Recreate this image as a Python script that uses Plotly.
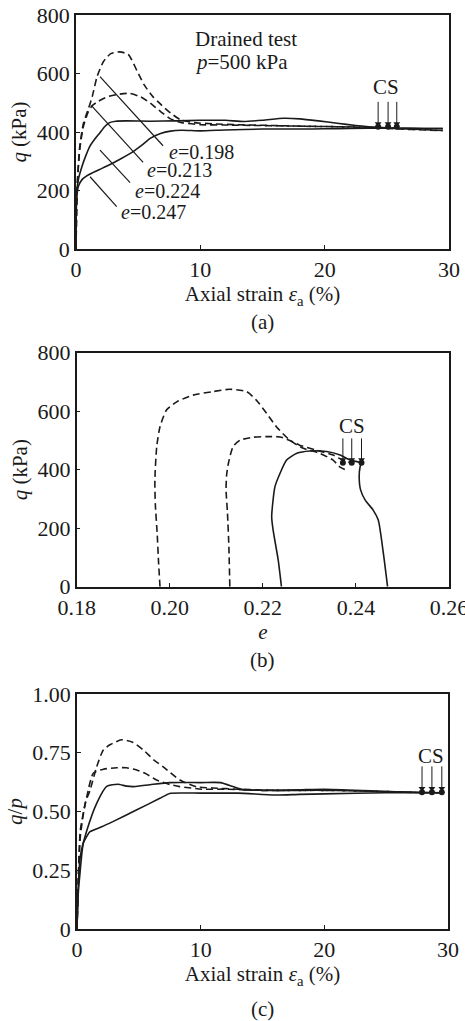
import plotly.graph_objects as go

# ---------------- Panel (a): q vs axial strain ----------------
eps_a_198 = [0, 0.1, 0.3, 0.6, 1.0, 1.3, 1.7, 2.2, 2.8, 3.5, 4.2, 4.9, 5.5, 6.2, 6.8, 7.6, 8.4, 9.5, 11, 13, 15, 18, 21, 24, 26, 28, 29.5]
q_a_198 = [0, 220, 350, 430, 480, 520, 590, 640, 668, 674, 665, 610, 560, 520, 495, 465, 442, 432, 428, 425, 423, 420, 418, 416, 412, 408, 405]
eps_a_213 = [0, 0.1, 0.3, 0.6, 1.0, 1.3, 1.8, 2.5, 3.3, 4.3, 5.2, 6.0, 6.8, 7.6, 8.5, 10, 12, 15, 18, 21, 24, 26, 28, 29.5]
q_a_213 = [0, 210, 340, 420, 470, 490, 505, 520, 528, 532, 520, 498, 470, 445, 432, 425, 424, 422, 420, 418, 415, 410, 407, 405]
eps_a_224 = [0, 0.05, 0.2, 0.5, 0.8, 1.1, 1.5, 1.9, 2.3, 2.7, 3.2, 4, 6, 8, 10, 12, 13.5, 15, 16.7, 18, 19.5, 21, 22.5, 24, 26, 28, 29.5]
q_a_224 = [0, 190, 240, 285, 320, 350, 375, 396, 418, 432, 437, 438, 437, 438, 440, 440, 436, 440, 447, 445, 438, 430, 422, 416, 413, 412, 412]
eps_a_247 = [0, 0.05, 0.2, 0.5, 0.86, 1.3, 1.9, 2.7, 3.5, 4.6, 5.3, 6.0, 6.8, 7.6, 8.5, 10, 12, 15, 18, 20, 22, 25, 28, 29.5]
q_a_247 = [0, 170, 215, 238, 250, 260, 272, 288, 306, 333, 355, 379, 395, 403, 406, 404, 407, 410, 410, 411, 412, 413, 412, 412]

cs_a_eps = [24.3, 25.1, 25.8]
cs_a_q = [418, 418, 418]
cs_a_arrow_top = 503
cs_a_arrow_tip = 428

labels_a = ["<i>e</i>=0.198", "<i>e</i>=0.213", "<i>e</i>=0.224", "<i>e</i>=0.247"]
label_a_eps = [7.3, 5.55, 4.6, 3.48]
label_a_q = [333, 270, 199, 126]
leader_from_eps = [7.0, 5.4, 4.35, 3.27]
leader_from_q = [353, 296, 227, 145]
leader_to_eps = [1.93, 1.26, 1.93, 1.13]
leader_to_q = [589, 489, 338, 247]

# ---------------- Panel (b): q vs void ratio ----------------
e_b_198 = [0.1979, 0.1976, 0.1973, 0.1969, 0.1968, 0.1972, 0.1979, 0.1993, 0.2015, 0.205, 0.2093, 0.2129, 0.2165, 0.2186, 0.2208, 0.2229, 0.2258, 0.2287, 0.2322, 0.2351, 0.2365, 0.2377]
q_b_198 = [0, 80, 180, 280, 365, 479, 547, 604, 632, 655, 667, 675, 667, 638, 593, 547, 501, 473, 456, 433, 410, 400]
e_b_213 = [0.2129, 0.2127, 0.2124, 0.2121, 0.2122, 0.2126, 0.2136, 0.2151, 0.2179, 0.2208, 0.2237, 0.2258, 0.2279, 0.2315, 0.2351, 0.2375, 0.2391]
q_b_213 = [0, 137, 251, 330, 380, 422, 479, 501, 511, 513, 512, 500, 484, 467, 450, 430, 424]
e_b_224 = [0.2240, 0.2233, 0.2222, 0.2219, 0.2226, 0.2237, 0.2251, 0.2273, 0.2301, 0.2337, 0.2366, 0.2385, 0.2412]
q_b_224 = [0, 91, 194, 239, 342, 388, 433, 456, 464, 462, 450, 435, 424]
e_b_247 = [0.2468, 0.2459, 0.2448, 0.2437, 0.2420, 0.2410, 0.2407, 0.2409, 0.2412]
q_b_247 = [0, 114, 228, 262, 296, 331, 376, 410, 424]

cs_b_e = [0.2372, 0.2391, 0.2412]
cs_b_q = [424, 424, 424]
cs_b_arrow_top = 507
cs_b_arrow_tip = 434

# ---------------- Panel (c): q/p vs axial strain ----------------
eps_c_198 = [0, 0.1, 0.27, 0.67, 1.05, 1.59, 2.13, 2.7, 3.6, 4.5, 5.36, 6.2, 6.98, 8.33, 9.68, 11, 13, 16, 20, 25, 28, 29.5]
r_c_198 = [0, 0.2, 0.394, 0.536, 0.59, 0.69, 0.762, 0.785, 0.805, 0.795, 0.762, 0.72, 0.69, 0.634, 0.605, 0.6, 0.595, 0.59, 0.59, 0.585, 0.58, 0.58]
eps_c_213 = [0, 0.1, 0.27, 0.8, 1.32, 2.13, 3.2, 4.0, 4.83, 5.6, 6.44, 7.5, 8.3, 10.1, 12, 15, 20, 25, 28, 29.5]
r_c_213 = [0, 0.2, 0.42, 0.565, 0.663, 0.68, 0.686, 0.686, 0.677, 0.66, 0.634, 0.615, 0.606, 0.595, 0.595, 0.59, 0.59, 0.585, 0.58, 0.58]
eps_c_224 = [0, 0.1, 0.27, 0.8, 1.6, 2.4, 3.3, 4.0, 4.6, 5.9, 7.5, 10, 11.6, 12.6, 13.4, 15, 16.5, 18, 20, 25, 29.5]
r_c_224 = [0, 0.18, 0.31, 0.42, 0.536, 0.607, 0.616, 0.608, 0.606, 0.614, 0.623, 0.623, 0.623, 0.606, 0.593, 0.59, 0.59, 0.592, 0.595, 0.585, 0.58]
eps_c_247 = [0, 0.1, 0.24, 0.51, 0.78, 1.05, 2.0, 2.9, 4.8, 6.7, 7.5, 8.6, 10, 13, 16, 18, 20, 25, 29.5]
r_c_247 = [0, 0.15, 0.237, 0.365, 0.393, 0.414, 0.435, 0.457, 0.506, 0.556, 0.577, 0.579, 0.578, 0.578, 0.57, 0.573, 0.575, 0.58, 0.58]

cs_c_eps = [27.9, 28.7, 29.5]
cs_c_r = [0.582, 0.582, 0.582]
cs_c_arrow_top = 0.692
cs_c_arrow_tip = 0.598

# ---------------- Tick labels ----------------
ticks_strain = [0, 10, 20, 30]
ticks_q = [0, 200, 400, 600, 800]
ticks_e = [0.18, 0.20, 0.22, 0.24, 0.26]
ticks_r = [0, 0.25, 0.5, 0.75, 1.0]
ticktext_r = ["0", "0.25", "0.50", "0.75", "1.00"]

FONT = "Liberation Serif"
INK = "#1a1a1a"
DASH = "7px,4px"

W = 465
H = 1021


def px_x(px):
    return px / W


def px_y(py):
    return 1 - py / H


fig = go.Figure()


def add_curve(x, y, dashed, xa, ya):
    fig.add_trace(go.Scatter(
        x=x, y=y, mode="lines", xaxis=xa, yaxis=ya,
        line=dict(color=INK, width=1.6, dash=DASH if dashed else "solid",
                  shape="spline", smoothing=0.6),
        showlegend=False, hoverinfo="skip"))


add_curve(eps_a_198, q_a_198, True, "x", "y")
add_curve(eps_a_213, q_a_213, True, "x", "y")
add_curve(eps_a_224, q_a_224, False, "x", "y")
add_curve(eps_a_247, q_a_247, False, "x", "y")

add_curve(e_b_198, q_b_198, True, "x2", "y2")
add_curve(e_b_213, q_b_213, True, "x2", "y2")
add_curve(e_b_224, q_b_224, False, "x2", "y2")
add_curve(e_b_247, q_b_247, False, "x2", "y2")

add_curve(eps_c_198, r_c_198, True, "x3", "y3")
add_curve(eps_c_213, r_c_213, True, "x3", "y3")
add_curve(eps_c_224, r_c_224, False, "x3", "y3")
add_curve(eps_c_247, r_c_247, False, "x3", "y3")

annotations = []
shapes = []
tfont = dict(family=FONT, size=21, color=INK)
lfont = dict(family=FONT, size=20, color=INK)

# CS markers, arrows and labels
cs_sets = [
    ("x", "y", cs_a_eps, cs_a_q, cs_a_arrow_tip, cs_a_arrow_top, 24.95, 553),
    ("x2", "y2", cs_b_e, cs_b_q, cs_b_arrow_tip, cs_b_arrow_top, 0.2392, 549),
    ("x3", "y3", cs_c_eps, cs_c_r, cs_c_arrow_tip, cs_c_arrow_top, 28.65, 0.735),
]
for xr, yr, xs, ys, tip, top, tx, ty in cs_sets:
    fig.add_trace(go.Scatter(x=xs, y=ys, mode="markers", xaxis=xr, yaxis=yr,
                             marker=dict(color=INK, size=6), showlegend=False, hoverinfo="skip"))
    fig.add_trace(go.Scatter(x=xs, y=[tip] * len(xs), mode="markers", xaxis=xr, yaxis=yr,
                             marker=dict(color=INK, size=6, symbol="triangle-down"),
                             showlegend=False, hoverinfo="skip"))
    for xv in xs:
        shapes.append(dict(type="line", xref=xr, yref=yr, x0=xv, x1=xv, y0=top, y1=tip,
                           line=dict(color=INK, width=1)))
    annotations.append(dict(x=tx, y=ty, xref=xr, yref=yr, text="CS", showarrow=False, font=tfont))

# Panel (a) labels and leaders
for t, lx, ly in zip(labels_a, label_a_eps, label_a_q):
    annotations.append(dict(x=lx, y=ly, xref="x", yref="y", text=t, showarrow=False,
                            xanchor="left", yanchor="middle", font=lfont))
for x0, y0, x1, y1 in zip(leader_from_eps, leader_from_q, leader_to_eps, leader_to_q):
    shapes.append(dict(type="line", xref="x", yref="y", x0=x0, y0=y0, x1=x1, y1=y1,
                       line=dict(color=INK, width=1.2)))

annotations.append(dict(x=9.4, y=718, xref="x", yref="y", text="Drained test", showarrow=False,
                        xanchor="left", yanchor="middle", font=tfont))
annotations.append(dict(x=9.4, y=639, xref="x", yref="y", text="<i>p</i>=500 kPa", showarrow=False,
                        xanchor="left", yanchor="middle", font=tfont))

# Panel captions
for cap, py in [("(a)", 322), ("(b)", 660), ("(c)", 1009)]:
    annotations.append(dict(x=px_x(262), y=px_y(py), xref="paper", yref="paper", text=cap,
                            showarrow=False, xanchor="center", yanchor="middle", font=tfont))

axis_common = dict(showline=True, linecolor=INK, linewidth=1.5, mirror=True, ticks="inside",
                   ticklen=4, tickwidth=1.2, tickcolor=INK, showgrid=False, zeroline=False,
                   automargin=False, ticklabeloverflow="allow",
                   tickfont=dict(family=FONT, size=22, color=INK))

title_font = dict(family=FONT, size=21, color=INK)

fig.update_layout(
    width=W, height=H,
    margin=dict(l=0, r=0, t=0, b=0),
    paper_bgcolor="white", plot_bgcolor="white",
    font=dict(family=FONT, color=INK),
    xaxis=dict(domain=[px_x(76), px_x(449)], anchor="y", range=[0, 30], tickvals=ticks_strain,
               title=dict(text="Axial strain <i>ε</i><sub>a</sub> (%)", font=title_font, standoff=4),
               **axis_common),
    yaxis=dict(domain=[px_y(249), px_y(15)], anchor="x", range=[0, 800], tickvals=ticks_q,
               title=dict(text="<i>q</i> (kPa)", font=title_font, standoff=4), **axis_common),
    xaxis2=dict(domain=[px_x(76.7), px_x(449)], anchor="y2", range=[0.18, 0.2600001], tickvals=ticks_e,
                tickformat=".2f",
                title=dict(text="<i>e</i>", font=title_font, standoff=4), **axis_common),
    yaxis2=dict(domain=[px_y(586.7), px_y(352.7)], anchor="x2", range=[0, 800], tickvals=ticks_q,
                title=dict(text="<i>q</i> (kPa)", font=title_font, standoff=4), **axis_common),
    xaxis3=dict(domain=[px_x(77), px_x(448)], anchor="y3", range=[0, 30], tickvals=ticks_strain,
                title=dict(text="Axial strain <i>ε</i><sub>a</sub> (%)", font=title_font, standoff=4),
                **axis_common),
    yaxis3=dict(domain=[px_y(929), px_y(694)], anchor="x3", range=[0, 1.0], tickvals=ticks_r,
                ticktext=ticktext_r,
                title=dict(text="<i>q</i>/<i>p</i>", font=title_font, standoff=4), **axis_common),
    annotations=annotations,
    shapes=shapes,
)

# remove the default 8px page margin so the figure fills the window exactly
fig.write_html("out.html", config={"displayModeBar": False},
               post_script="document.body.style.margin='0px';")
